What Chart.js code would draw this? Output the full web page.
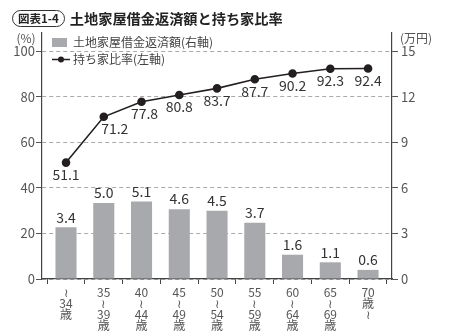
<!DOCTYPE html>
<html>
<head>
<meta charset="utf-8">
<script src="https://cdn.jsdelivr.net/npm/chart.js@4"></script>
<style>
    html, body { margin: 0; padding: 0; background: #fff; }
    #wrap { position: relative; width: 450px; height: 335px; }
    #title { position: absolute; left: 12px; top: 8px; font-family: "Noto Sans CJK JP"; color: #222; display: flex; align-items: center; }
    #title .tag { border: 1.3px solid #333; border-radius: 9px; font-size: 11.5px; font-weight: bold; padding: 0 5px; line-height: 15px; margin-right: 5px; }
    #title .main { font-size: 14.2px; font-weight: bold; line-height: 20px; }
</style>
</head>
<body>
<div id="wrap">
    <canvas id="chart" width="450" height="335"></canvas>
    <div id="title"><span class="tag">図表1-4</span><span class="main">土地家屋借金返済額と持ち家比率</span></div>
</div>
<script>
// age groups (vertical labels, "≀" stands in for the rotated wave dash)
const ageLabels = [
    ['≀', '34', '歳'],
    ['35', '≀', '39', '歳'],
    ['40', '≀', '44', '歳'],
    ['45', '≀', '49', '歳'],
    ['50', '≀', '54', '歳'],
    ['55', '≀', '59', '歳'],
    ['60', '≀', '64', '歳'],
    ['65', '≀', '69', '歳'],
    ['70', '歳', '≀']
];
const repayment = [3.4, 5.0, 5.1, 4.6, 4.5, 3.7, 1.6, 1.1, 0.6];       // 万円, right axis
const ownership = [51.1, 71.2, 77.8, 80.8, 83.7, 87.7, 90.2, 92.3, 92.4]; // %, left axis
const leftTicks = [0, 20, 40, 60, 80, 100];
const rightTicks = [0, 3, 6, 9, 12, 15];

const FONT = '"Noto Sans CJK JP", "Noto Sans", sans-serif';
const BAR_COLOR = '#a7a9ac';
const LINE_COLOR = '#231f20';
const TICK_COLOR = '#555';

// data labels, legend and unit captions
const decorPlugin = {
    id: 'decor',
    afterDatasetsDraw(chart) {
        const ctx = chart.ctx;
        ctx.save();
        ctx.fillStyle = '#333';
        ctx.font = '14px ' + FONT;
        ctx.textAlign = 'center';
        ctx.textBaseline = 'middle';

        chart.getDatasetMeta(0).data.forEach((bar, i) => {
            ctx.fillText(repayment[i].toFixed(1), bar.x, bar.y - 10);
        });
        chart.getDatasetMeta(1).data.forEach((pt, i) => {
            let dx = 0;
            if (i === 1) dx = 11;
            if (i === 2) dx = 3;
            ctx.fillText(ownership[i].toFixed(1), pt.x + dx, pt.y + 12);
        });

        // legend
        ctx.font = '12px ' + FONT;
        ctx.textAlign = 'left';
        ctx.fillStyle = BAR_COLOR;
        ctx.fillRect(52, 38, 15, 9);
        ctx.fillStyle = '#444';
        ctx.fillText('土地家屋借金返済額(右軸)', 73, 42);
        ctx.strokeStyle = LINE_COLOR;
        ctx.lineWidth = 1.5;
        ctx.beginPath();
        ctx.moveTo(52, 59.5);
        ctx.lineTo(70, 59.5);
        ctx.stroke();
        ctx.fillStyle = LINE_COLOR;
        ctx.beginPath();
        ctx.arc(61, 59.5, 3, 0, Math.PI * 2);
        ctx.fill();
        ctx.fillStyle = '#444';
        ctx.fillText('持ち家比率(左軸)', 73, 59);

        // units
        ctx.fillStyle = TICK_COLOR;
        ctx.font = '12px ' + FONT;
        ctx.textAlign = 'center';
        ctx.fillText('(%)', 26, 38);
        ctx.fillText('(万円)', 416, 38);
        ctx.restore();
    }
};

const ctx = document.getElementById('chart').getContext('2d');
new Chart(ctx, {
    data: {
        labels: ageLabels,
        datasets: [
            {
                type: 'bar',
                label: '土地家屋借金返済額(右軸)',
                data: repayment,
                yAxisID: 'y1',
                backgroundColor: BAR_COLOR,
                barPercentage: 0.62,
                categoryPercentage: 0.9,
                order: 2
            },
            {
                type: 'line',
                label: '持ち家比率(左軸)',
                data: ownership,
                yAxisID: 'y',
                borderColor: LINE_COLOR,
                backgroundColor: LINE_COLOR,
                borderWidth: 1.6,
                pointRadius: 3.5,
                pointHoverRadius: 3.5,
                tension: 0,
                order: 1
            }
        ]
    },
    options: {
        responsive: false,
        animation: false,
        layout: { padding: { top: 33 } },
        plugins: {
            legend: { display: false },
            tooltip: { enabled: false }
        },
        scales: {
            x: {
                offset: true,
                grid: { display: true, drawOnChartArea: false, drawTicks: true, tickLength: 5, color: '#444' },
                border: { color: '#444', width: 1.2 },
                ticks: {
                    color: TICK_COLOR,
                    font: { family: FONT, size: 12, lineHeight: 0.92 },
                    padding: 3,
                    maxRotation: 0,
                    autoSkip: false
                },
                afterFit: s => { s.height = 56; },
                // categories sit a little inside the two vertical axes
                afterUpdate: s => { s._startValue = -0.636; s._valueRange = 9.27; }
            },
            y: {
                position: 'left',
                min: 0,
                max: 108,
                afterBuildTicks: s => { s.ticks = leftTicks.map(v => ({ value: v })); },
                grid: { color: '#aaa', lineWidth: 1, drawTicks: true, tickLength: 6, tickColor: '#555', tickBorderDash: [] },
                border: { color: '#444', width: 1.2, dash: [4, 3] },
                ticks: { color: TICK_COLOR, font: { family: FONT, size: 13 }, padding: 1 },
                afterFit: s => { s.width = 42; }
            },
            y1: {
                position: 'right',
                min: 0,
                max: 16.2,
                afterBuildTicks: s => { s.ticks = rightTicks.map(v => ({ value: v })); },
                grid: { drawOnChartArea: false, drawTicks: true, tickLength: 6, color: '#555' },
                border: { color: '#444', width: 1.2 },
                ticks: { color: TICK_COLOR, font: { family: FONT, size: 13 }, padding: 3 },
                afterFit: s => { s.width = 58; }
            }
        }
    },
    plugins: [decorPlugin]
});
</script>
</body>
</html>
